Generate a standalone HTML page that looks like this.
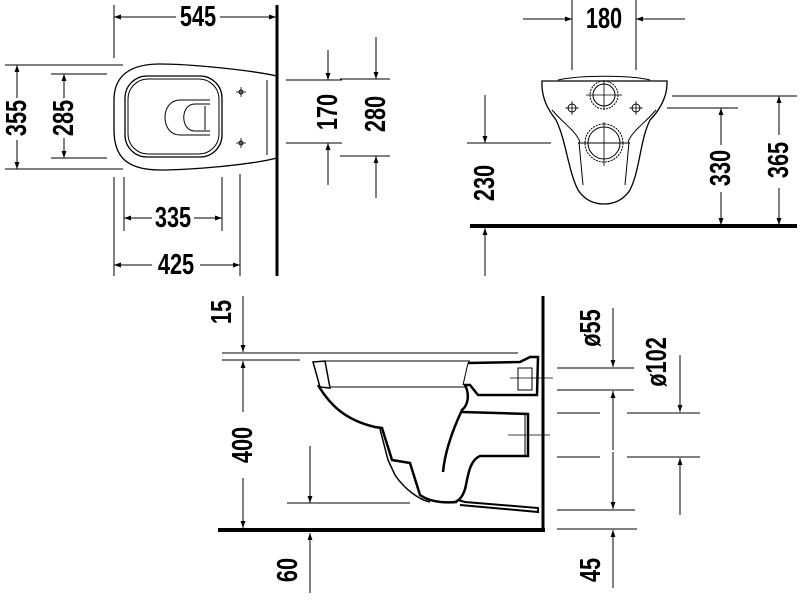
<!DOCTYPE html>
<html><head><meta charset="utf-8"><style>
html,body{margin:0;padding:0;background:#fff;}
svg{display:block}
text{font-family:"Liberation Sans",sans-serif;font-weight:bold;font-size:29px;fill:#000;text-anchor:middle;dominant-baseline:central}
</style></head><body>
<svg width="800" height="600" viewBox="0 0 800 600" xmlns="http://www.w3.org/2000/svg">
<defs>
<marker id="a" viewBox="0 0 10 10" refX="10" refY="5" markerWidth="10" markerHeight="7" orient="auto-start-reverse" markerUnits="userSpaceOnUse"><path d="M0,1.5 L10,5 L0,8.5z" fill="#000"/></marker>
</defs>
<g stroke="#000" stroke-width="1" fill="none">
<!-- ===== TOP-LEFT PLAN ===== -->
<line x1="277" y1="5" x2="277" y2="276" stroke-width="3"/>
<line x1="114" y1="5" x2="114" y2="58"/>
<line x1="176" y1="17" x2="114" y2="17" marker-end="url(#a)"/>
<line x1="220" y1="17" x2="276" y2="17" marker-end="url(#a)"/>
<path d="M277,76 C250,70 190,64 160,64 C125,64 114,80 114,100 L114,130 C114,155 125,170 160,170 C190,170 250,165 277,158" stroke-width="1.3"/>
<rect x="125" y="76" width="97" height="81" rx="22" stroke-width="1.3"/>
<rect x="128" y="79" width="91" height="75" rx="20"/>
<line x1="267" y1="80" x2="267" y2="155"/>
<path d="M210,100 L180,100 C160,100 160,135 180,135 L210,135"/>
<path d="M210,104 L195,104 C180,104 180,131 195,131 L210,131"/>
<line x1="205" y1="106" x2="205" y2="130"/>
<path d="M236,92h10M241,87v10M236,143h10M241,138v10" stroke-width="0.8"/>
<circle cx="241" cy="92" r="2"/><circle cx="241" cy="143" r="2"/>
<line x1="5" y1="65" x2="123" y2="65"/><line x1="5" y1="169" x2="123" y2="169"/>
<line x1="17" y1="98" x2="17" y2="65" marker-end="url(#a)"/>
<line x1="17" y1="140" x2="17" y2="169" marker-end="url(#a)"/>
<line x1="51" y1="74" x2="107" y2="74"/><line x1="51" y1="158" x2="107" y2="158"/>
<line x1="64" y1="98" x2="64" y2="74" marker-end="url(#a)"/>
<line x1="64" y1="138" x2="64" y2="158" marker-end="url(#a)"/>
<line x1="124" y1="177" x2="124" y2="231"/><line x1="222" y1="177" x2="222" y2="231"/>
<line x1="152" y1="218" x2="124" y2="218" marker-end="url(#a)"/>
<line x1="194" y1="218" x2="222" y2="218" marker-end="url(#a)"/>
<line x1="240" y1="174" x2="240" y2="276"/><line x1="114" y1="177" x2="114" y2="276"/>
<line x1="152" y1="265" x2="114" y2="265" marker-end="url(#a)"/>
<line x1="200" y1="265" x2="240" y2="265" marker-end="url(#a)"/>
<line x1="286" y1="80" x2="342" y2="80"/><line x1="286" y1="143" x2="342" y2="143"/>
<line x1="328" y1="50" x2="328" y2="80" marker-end="url(#a)"/>
<line x1="328" y1="185" x2="328" y2="143" marker-end="url(#a)"/>
<line x1="340" y1="79" x2="390" y2="79"/><line x1="340" y1="156" x2="390" y2="156"/>
<line x1="376" y1="37" x2="376" y2="79" marker-end="url(#a)"/>
<line x1="376" y1="198" x2="376" y2="156" marker-end="url(#a)"/>

<!-- ===== TOP-RIGHT FRONT ===== -->
<line x1="572" y1="0" x2="572" y2="70"/><line x1="636" y1="0" x2="636" y2="70"/>
<line x1="523" y1="19" x2="572" y2="19" marker-end="url(#a)"/>
<line x1="685" y1="19" x2="636" y2="19" marker-end="url(#a)"/>
<line x1="470" y1="226" x2="797" y2="226" stroke-width="4"/>
<path d="M542,81 L667,81 C668,100 655,115 650,120 C640,140 640,170 630,190 C622,202 612,204 604,204 C596,204 586,202 578,190 C568,170 566,140 556,120 C550,112 541,100 542,81Z" stroke-width="1.3"/>
<path d="M558,80 C580,75 630,75 650,80"/>
<path d="M552,110 C565,125 575,130 580,142 M656,110 C643,125 633,130 628,142"/>
<path d="M579,142 L583,185 M629,142 L625,185 M578,143 L630,143"/>
<circle cx="604" cy="95" r="14" stroke-dasharray="2,1"/><circle cx="604" cy="95" r="11"/>
<circle cx="604" cy="143" r="19" stroke-dasharray="2,1"/><circle cx="604" cy="143" r="16"/>
<path d="M586,95h36M604,80v30M582,143h44M604,122v44" stroke-width="0.8"/>
<path d="M565,108h14M572,101v14M629,108h14M636,101v14" stroke-width="0.8"/>
<circle cx="572" cy="108" r="4"/><circle cx="636" cy="108" r="4"/>
<line x1="467" y1="143" x2="551" y2="143"/>
<line x1="485" y1="95" x2="485" y2="143" marker-end="url(#a)"/>
<line x1="485" y1="276" x2="485" y2="228" marker-end="url(#a)"/>
<line x1="667" y1="108" x2="738" y2="108"/>
<line x1="721" y1="145" x2="721" y2="108" marker-end="url(#a)"/>
<line x1="721" y1="192" x2="721" y2="225" marker-end="url(#a)"/>
<line x1="672" y1="96" x2="797" y2="96"/>
<line x1="779" y1="135" x2="779" y2="96" marker-end="url(#a)"/>
<line x1="779" y1="188" x2="779" y2="225" marker-end="url(#a)"/>

<!-- ===== BOTTOM SIDE VIEW ===== -->
<line x1="543" y1="296" x2="543" y2="532" stroke-width="3"/>
<line x1="218" y1="530" x2="545" y2="530" stroke-width="4"/>
<line x1="222" y1="353" x2="518" y2="353"/><line x1="222" y1="360" x2="300" y2="360"/>
<line x1="243" y1="296" x2="243" y2="352" marker-end="url(#a)"/>
<line x1="243" y1="412" x2="243" y2="361" marker-end="url(#a)"/>
<line x1="243" y1="478" x2="243" y2="528" marker-end="url(#a)"/>
<line x1="310" y1="446" x2="310" y2="503" marker-end="url(#a)"/>
<line x1="287" y1="503" x2="410" y2="503"/>
<line x1="310" y1="593" x2="310" y2="533" marker-end="url(#a)"/>
<path d="M313,362 L325,361 L330,388 L320,387 Z" stroke-width="1.5"/>
<path d="M325,361 L470,361"/>
<path d="M318,385 C330,405 345,420 375,427 L382,428 L392,460 L410,463 L420,495 C430,502 445,503 457,502" stroke-width="2.5"/>
<path d="M380,429 L388,460 L395,475 C405,490 420,500 430,502" stroke-width="1.5"/>
<path d="M330,387 L465,387"/>
<path d="M468,363 L520,362 L530,357 L538,357 L537,395 L478,395 L470,385 L465,385 C470,395 468,405 462,410 C455,425 445,450 443,472" stroke-width="2.5"/>
<path d="M468,363 L463,385"/>
<rect x="518" y="368" width="14" height="22"/>
<line x1="510" y1="378" x2="553" y2="378" stroke-width="0.8"/>
<path d="M462,412 L528,414 L528,456 L480,456 C470,460 468,475 466,485 C464,495 460,500 455,502" stroke-width="2.5"/>
<line x1="525" y1="415" x2="525" y2="455"/>
<line x1="508" y1="435" x2="550" y2="435" stroke-width="0.8"/>
<path d="M458,500 L465,502 L538,508 L538,512 L460,505" stroke-width="2"/>
<line x1="557" y1="368" x2="634" y2="368"/><line x1="557" y1="390" x2="634" y2="390"/>
<line x1="613" y1="308" x2="613" y2="367" marker-end="url(#a)"/>
<line x1="613" y1="450" x2="613" y2="391" marker-end="url(#a)"/>
<line x1="613" y1="452" x2="613" y2="509" marker-end="url(#a)"/>
<line x1="557" y1="510" x2="635" y2="510"/><line x1="557" y1="529" x2="637" y2="529"/>
<line x1="613" y1="588" x2="613" y2="530" marker-end="url(#a)"/>
<line x1="557" y1="413" x2="600" y2="413"/><line x1="557" y1="457" x2="600" y2="457"/>
<line x1="627" y1="413" x2="700" y2="413"/><line x1="627" y1="457" x2="700" y2="457"/>
<line x1="680" y1="355" x2="680" y2="412" marker-end="url(#a)"/>
<line x1="680" y1="515" x2="680" y2="458" marker-end="url(#a)"/>
</g>
<text transform="translate(198,17) scale(0.75,1)">545</text>
<text transform="translate(173,218) scale(0.75,1)">335</text>
<text transform="translate(176,265) scale(0.75,1)">425</text>
<text transform="translate(604,19) scale(0.75,1)">180</text>
<text transform="translate(17,118) rotate(-90) scale(0.75,1)">355</text>
<text transform="translate(64,118) rotate(-90) scale(0.75,1)">285</text>
<text transform="translate(328,112) rotate(-90) scale(0.75,1)">170</text>
<text transform="translate(376,114) rotate(-90) scale(0.75,1)">280</text>
<text transform="translate(485,183) rotate(-90) scale(0.75,1)">230</text>
<text transform="translate(721,168) rotate(-90) scale(0.75,1)">330</text>
<text transform="translate(779,160) rotate(-90) scale(0.75,1)">365</text>
<text transform="translate(222,312) rotate(-90) scale(0.75,1)">15</text>
<text transform="translate(243,445) rotate(-90) scale(0.75,1)">400</text>
<text transform="translate(288,570) rotate(-90) scale(0.75,1)">60</text>
<text transform="translate(591,328) rotate(-90) scale(0.75,1)">ø55</text>
<text transform="translate(657,362) rotate(-90) scale(0.75,1)">ø102</text>
<text transform="translate(591,570) rotate(-90) scale(0.75,1)">45</text>
</svg>
</body></html>
